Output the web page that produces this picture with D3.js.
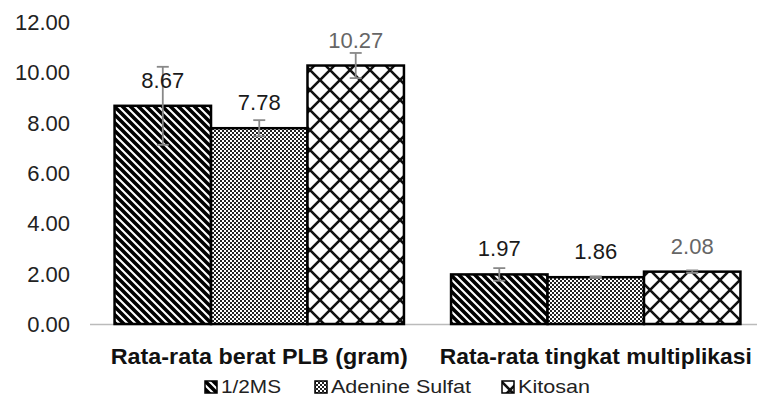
<!DOCTYPE html>
<html><head><meta charset="utf-8">
<script src="https://cdn.jsdelivr.net/npm/d3@7"></script>
<style>body{margin:0;background:#fff;}svg{display:block;font-family:"Liberation Sans",Arial,sans-serif;}</style>
</head><body><svg id="c" width="757" height="397"></svg>
<script>
const categories = ["Rata-rata berat PLB (gram)", "Rata-rata tingkat multiplikasi"];
const seriesNames = ["1/2MS", "Adenine Sulfat", "Kitosan"];
const values = {"1/2MS": [8.67, 1.97], "Adenine Sulfat": [7.78, 1.86], "Kitosan": [10.27, 2.08]};
const errors = {"1/2MS": [1.55, 0.25], "Adenine Sulfat": [0.32, 0.03], "Kitosan": [0.5, 0.05]};
const labelColors = {"1/2MS": "#1a1a1a", "Adenine Sulfat": "#1a1a1a", "Kitosan": "#666"};
const yTicks = [0, 2, 4, 6, 8, 10, 12];

const svg = d3.select("#c");
const defs = svg.append("defs");
const p1 = defs.append("pattern").attr("id","p0").attr("patternUnits","userSpaceOnUse").attr("width",8).attr("height",8);
p1.append("rect").attr("width",8).attr("height",8).attr("fill","#fff");
p1.append("path").attr("d","M-2,-2 L10,10 M-2,6 L2,10 M6,-2 L10,2").attr("stroke","#000").attr("stroke-width",3.6);
const p2 = defs.append("pattern").attr("id","p1").attr("patternUnits","userSpaceOnUse").attr("width",4).attr("height",4);
p2.append("rect").attr("width",4).attr("height",4).attr("fill","#fff");
p2.append("rect").attr("width",2).attr("height",2).attr("fill","#222");
p2.append("rect").attr("x",2).attr("y",2).attr("width",2).attr("height",2).attr("fill","#222");
const p3 = defs.append("pattern").attr("id","p2").attr("patternUnits","userSpaceOnUse").attr("width",20).attr("height",20);
p3.append("rect").attr("width",20).attr("height",20).attr("fill","#fff");
p3.append("path").attr("d","M0,0 L20,20 M20,0 L0,20").attr("stroke","#111").attr("stroke-width",2.6);

const y = d3.scaleLinear().domain([0,12]).range([324,22]);
const x0 = d3.scaleBand().domain(categories).range([91,764]).paddingInner(0.14).paddingOuter(0.07);
const x1 = d3.scaleBand().domain(seriesNames).range([0, x0.bandwidth()]);

svg.append("g").selectAll("text").data(yTicks).join("text")
  .attr("x",70).attr("y",d=>y(d)).attr("dy","0.36em").attr("text-anchor","end")
  .attr("font-size",22).attr("fill","#222").text(d=>d.toFixed(2));

svg.append("line").attr("x1",90).attr("x2",757).attr("y1",y(0)+0.5).attr("y2",y(0)+0.5).attr("stroke","#bbb").attr("stroke-width",1.5);

const g = svg.append("g");
seriesNames.forEach((s,si)=>{
  categories.forEach((c,ci)=>{
    const v = values[s][ci], e = errors[s][ci];
    const bx = x0(c)+x1(s), bw = x1.bandwidth();
    g.append("rect").attr("x",bx).attr("y",y(v)).attr("width",bw).attr("height",y(0)-y(v))
      .attr("fill",`url(#p${si})`).attr("stroke","#000").attr("stroke-width",2.5);
    const cx = bx + bw/2;
    g.append("line").attr("x1",cx).attr("x2",cx).attr("y1",y(v+e)).attr("y2",y(v-e)).attr("stroke","#888").attr("stroke-width",1.8);
    [v+e, v-e].forEach(t=>g.append("line").attr("x1",cx-6).attr("x2",cx+6).attr("y1",y(t)).attr("y2",y(t)).attr("stroke","#888").attr("stroke-width",1.8));
    g.append("text").attr("x",cx).attr("y",y(v)-18).attr("text-anchor","middle").attr("font-size",22)
      .attr("fill",labelColors[s]).text(v.toFixed(2));
  });
});

svg.append("g").selectAll("text").data(categories).join("text")
  .attr("x",d=>x0(d)+x0.bandwidth()/2).attr("y",364).attr("text-anchor","middle")
  .attr("font-size",22).attr("font-weight","bold").attr("fill","#111")
  .attr("textLength",(d,i)=>[297,312][i]).attr("lengthAdjust","spacingAndGlyphs").text(d=>d);

const legX = [205, 315, 502];
const legW = [60, 140, 72];
const leg = svg.append("g");
seriesNames.forEach((s,i)=>{
  leg.append("rect").attr("x",legX[i]).attr("y",381).attr("width",12).attr("height",12)
    .attr("fill",`url(#p${i})`).attr("stroke","#000").attr("stroke-width",1.5);
  leg.append("text").attr("x",legX[i]+16).attr("y",393).attr("font-size",19).attr("fill","#222")
    .attr("textLength",legW[i]).attr("lengthAdjust","spacingAndGlyphs").text(s);
});
</script></body></html>
